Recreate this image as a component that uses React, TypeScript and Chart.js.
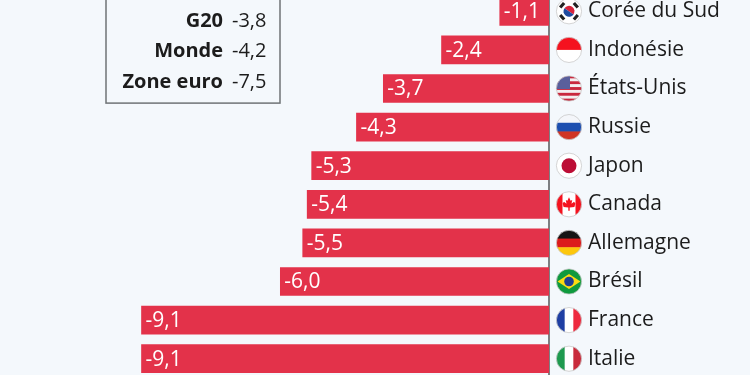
import React, { useEffect, useRef } from "react";
import { Chart, registerables } from "chart.js";

Chart.register(...registerables);

const countries = ["Corée du Sud", "Indonésie", "États-Unis", "Russie", "Japon", "Canada", "Allemagne", "Brésil", "France", "Italie"];
const flagCodes = ["kr", "id", "us", "ru", "jp", "ca", "de", "br", "fr", "it"];
const balances = [-1.1, -2.4, -3.7, -4.3, -5.3, -5.4, -5.5, -6.0, -9.1, -9.1];
const summaryNames = ["G20", "Monde", "Zone euro"];
const summaryValues = [-3.8, -4.2, -7.5];

const FONT = '"Open Sans"';
const BG = "#f4f8fc";
const fr = (v: number) => v.toFixed(1).replace(".", ",");

function stripesH(c: CanvasRenderingContext2D, r: number, cols: string[]) {
  const h = (2 * r) / cols.length;
  cols.forEach((col, i) => {
    c.fillStyle = col;
    c.fillRect(-r, -r + i * h, 2 * r, h + 0.5);
  });
}
function stripesV(c: CanvasRenderingContext2D, r: number, cols: string[]) {
  const w = (2 * r) / cols.length;
  cols.forEach((col, i) => {
    c.fillStyle = col;
    c.fillRect(-r + i * w, -r, w + 0.5, 2 * r);
  });
}

function drawFlag(c: CanvasRenderingContext2D, code: string, r: number) {
  switch (code) {
    case "kr": {
      c.fillStyle = "#fff";
      c.fillRect(-r, -r, 2 * r, 2 * r);
      c.save();
      c.rotate(0.6);
      c.fillStyle = "#d8243c";
      c.beginPath();
      c.arc(0, 0, 5.5, Math.PI, 0);
      c.fill();
      c.fillStyle = "#1f4ba0";
      c.beginPath();
      c.arc(0, 0, 5.5, 0, Math.PI);
      c.fill();
      c.restore();
      c.fillStyle = "#222";
      [0.72, 2.42, 3.86, 5.56].forEach((a) => {
        c.save();
        c.rotate(a);
        c.fillRect(7.5, -3, 3.2, 6);
        c.restore();
      });
      break;
    }
    case "id":
      stripesH(c, r, ["#f5121f", "#ffffff"]);
      break;
    case "us": {
      const s: string[] = [];
      for (let i = 0; i < 9; i++) s.push(i % 2 ? "#f3eef0" : "#c9283e");
      stripesH(c, r, s);
      c.fillStyle = "#5a5f9c";
      c.fillRect(-r, -r, r + 1, r + 0.5);
      break;
    }
    case "ru":
      stripesH(c, r, ["#f4f6fa", "#1d4fb0", "#d03424"]);
      break;
    case "jp":
      c.fillStyle = "#fff";
      c.fillRect(-r, -r, 2 * r, 2 * r);
      c.fillStyle = "#bc0d35";
      c.beginPath();
      c.arc(0, 0, 7.5, 0, Math.PI * 2);
      c.fill();
      break;
    case "ca":
      stripesV(c, r, ["#f5121f", "#ffffff", "#ffffff", "#f5121f"]);
      c.fillStyle = "#f5121f";
      c.beginPath();
      c.moveTo(0, -7);
      c.lineTo(1.6, -3.6);
      c.lineTo(3.2, -4.4);
      c.lineTo(2.5, -0.6);
      c.lineTo(5, -2.6);
      c.lineTo(6.4, -0.8);
      c.lineTo(5.4, 2.6);
      c.lineTo(0.7, 3.2);
      c.lineTo(0.7, 6.5);
      c.lineTo(-0.7, 6.5);
      c.lineTo(-0.7, 3.2);
      c.lineTo(-5.4, 2.6);
      c.lineTo(-6.4, -0.8);
      c.lineTo(-5, -2.6);
      c.lineTo(-2.5, -0.6);
      c.lineTo(-3.2, -4.4);
      c.lineTo(-1.6, -3.6);
      c.closePath();
      c.fill();
      break;
    case "de":
      stripesH(c, r, ["#141414", "#dc1c1c", "#fdc70c"]);
      break;
    case "br":
      c.fillStyle = "#0f9a3e";
      c.fillRect(-r, -r, 2 * r, 2 * r);
      c.fillStyle = "#fbdc12";
      c.beginPath();
      c.moveTo(-11.5, 0);
      c.lineTo(0, -7.5);
      c.lineTo(11.5, 0);
      c.lineTo(0, 7.5);
      c.closePath();
      c.fill();
      c.fillStyle = "#1f3f92";
      c.beginPath();
      c.arc(0, 0, 4.8, 0, Math.PI * 2);
      c.fill();
      break;
    case "fr":
      stripesV(c, r, ["#1f3fa3", "#ffffff", "#ee2a3f"]);
      break;
    case "it":
      stripesV(c, r, ["#1f9a4f", "#ffffff", "#c92b3c"]);
      break;
  }
}

const overlay = {
  id: "overlay",
  afterDatasetsDraw(chart: any) {
    const c: CanvasRenderingContext2D = chart.ctx;
    const xs = chart.scales.x;
    const ys = chart.scales.y;
    c.save();
    // value labels inside the bars
    c.font = `21px ${FONT}`;
    c.fillStyle = "#ffffff";
    c.textBaseline = "middle";
    c.textAlign = "left";
    balances.forEach((v, i) => {
      c.fillText(fr(v), xs.getPixelForValue(v) + 4, ys.getPixelForValue(i) + 1);
    });
    // flags
    flagCodes.forEach((code, i) => {
      const cy = ys.getPixelForValue(i);
      c.save();
      c.translate(xs.right + 20, cy);
      c.beginPath();
      c.arc(0, 0, 12.6, 0, Math.PI * 2);
      c.clip();
      drawFlag(c, code, 13);
      c.restore();
      c.beginPath();
      c.arc(xs.right + 20, cy, 12.6, 0, Math.PI * 2);
      c.strokeStyle = "#c9c9c9";
      c.lineWidth = 0.8;
      c.stroke();
    });
    // summary box
    const y0 = ys.getPixelForValue(0);
    const step = ys.getPixelForValue(1) - y0;
    const bx = xs.right - 443;
    const bw = 174;
    const bTop = y0 - 13;
    const bh = 3 * step - 11;
    c.fillStyle = BG;
    c.fillRect(bx, bTop, bw, bh);
    c.strokeStyle = "#6f7376";
    c.lineWidth = 1.5;
    c.strokeRect(bx, bTop, bw, bh);
    summaryNames.forEach((n, i) => {
      const ty = y0 + 10 + i * 30.3;
      c.font = `bold 20px ${FONT}`;
      c.textAlign = "right";
      c.fillStyle = "#1c1c1c";
      c.fillText(n, bx + 117, ty);
      c.font = `20px ${FONT}`;
      c.textAlign = "left";
      c.fillText(fr(summaryValues[i]), bx + 126, ty);
    });
    c.restore();
  },
};

export default function App() {
  const ref = useRef<HTMLCanvasElement>(null);
  useEffect(() => {
    document.body.style.margin = "0";
    document.body.style.background = BG;
    document.body.style.overflow = "hidden";
    const chart = new Chart(ref.current!, {
      type: "bar",
      data: {
        labels: countries,
        datasets: [
          {
            data: balances,
            backgroundColor: "#e3324a",
            barThickness: 28,
            borderWidth: 0,
          },
        ],
      },
      plugins: [overlay],
      options: {
        indexAxis: "y",
        animation: false,
        responsive: false,
        layout: { padding: 0 },
        plugins: { legend: { display: false }, tooltip: { enabled: false } },
        scales: {
          x: {
            display: false,
            min: -12.26,
            max: 0,
          },
          y: {
            position: "right",
            afterFit(scale: any) {
              scale.width = 201;
              scale.paddingTop = 0;
              scale.paddingBottom = 0;
            },
            grid: { display: false, drawTicks: false },
            border: { display: true, color: "#7d7f82", width: 2 },
            ticks: {
              padding: 39,
              autoSkip: false,
              color: "#1c1c1c",
              font: { family: FONT, size: 21 },
            },
          },
        },
      },
    } as any);
    return () => chart.destroy();
  }, []);
  return (
    <div style={{ position: "fixed", left: 0, top: 0, width: 750, height: 375, overflow: "hidden", background: BG }}>
      <canvas ref={ref} width={750} height={386} style={{ position: "absolute", left: 0, top: -8, display: "block" }} />
    </div>
  );
}
